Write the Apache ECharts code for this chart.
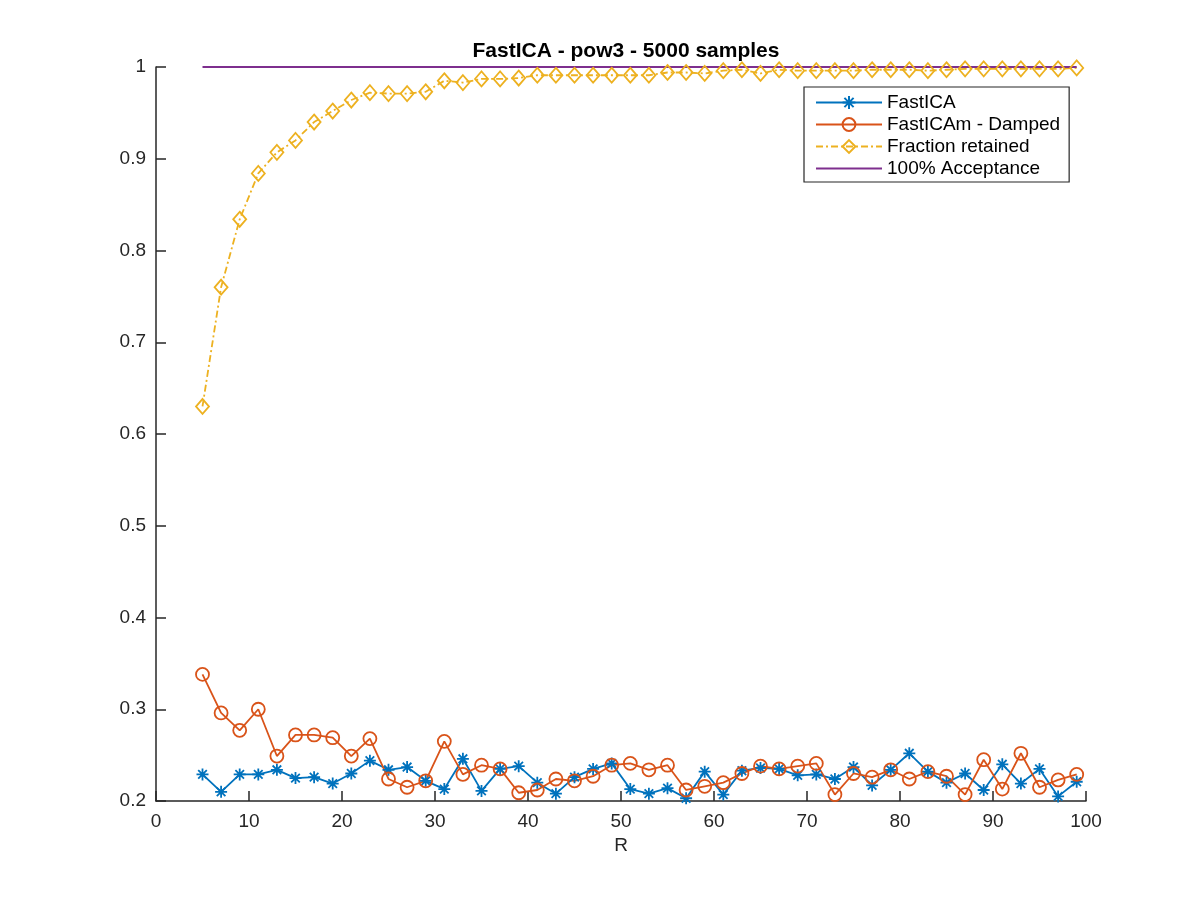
<!DOCTYPE html>
<html>
<head>
<meta charset="utf-8">
<script src="https://cdn.jsdelivr.net/npm/echarts@6/dist/echarts.min.js"></script>
<style>html,body{margin:0;padding:0;background:#fff}#c{width:1200px;height:900px}</style>
</head>
<body>
<div id="c"></div>
<script>
const R = [5,7,9,11,13,15,17,19,21,23,25,27,29,31,33,35,37,39,41,43,45,47,49,51,53,55,57,59,61,63,65,67,69,71,73,75,77,79,81,83,85,87,89,91,93,95,97,99];
const fastICA = [0.229,0.210,0.229,0.229,0.234,0.225,0.226,0.219,0.230,0.244,0.234,0.237,0.222,0.213,0.246,0.211,0.235,0.238,0.220,0.208,0.226,0.235,0.241,0.213,0.208,0.214,0.203,0.232,0.207,0.233,0.236,0.235,0.228,0.229,0.224,0.237,0.217,0.234,0.252,0.232,0.220,0.230,0.212,0.240,0.219,0.235,0.205,0.221];
const fastICAm = [0.338,0.296,0.277,0.300,0.249,0.272,0.272,0.269,0.249,0.268,0.224,0.215,0.222,0.265,0.229,0.239,0.235,0.209,0.212,0.224,0.222,0.227,0.239,0.241,0.234,0.239,0.212,0.216,0.220,0.230,0.238,0.235,0.238,0.241,0.207,0.230,0.226,0.234,0.224,0.232,0.227,0.207,0.245,0.213,0.252,0.215,0.223,0.229];
const fraction = [0.630,0.760,0.834,0.884,0.907,0.920,0.940,0.952,0.964,0.972,0.971,0.971,0.973,0.985,0.983,0.987,0.987,0.988,0.991,0.991,0.991,0.991,0.991,0.991,0.991,0.994,0.994,0.993,0.996,0.997,0.993,0.997,0.996,0.996,0.996,0.996,0.997,0.997,0.997,0.996,0.997,0.998,0.998,0.998,0.998,0.998,0.998,0.999];
const acceptX = [5,99];
const acceptY = [1,1];
const names = ['FastICA','FastICAm - Damped','Fraction retained','100% Acceptance'];
const titleText = 'FastICA - pow3 - 5000 samples';
const xName = 'R';

const zip = (xs, ys) => xs.map((x,i)=>[x, ys[i]]);
const FONT = '"Liberation Sans", Arial, Helvetica, sans-serif';
const AX = '#262626';
const asterisk = 'path://M0,-6L0,6M-6,0L6,0M-4.3,-4.3L4.3,4.3M-4.3,4.3L4.3,-4.3';
const LW = 1.8;

const chart = echarts.init(document.getElementById('c'), null, {renderer:'canvas'});
chart.setOption({
  animation:false,
  backgroundColor:'#fff',
  title:{
    text:titleText, left:621, top:36, textAlign:'center',
    textStyle:{fontFamily:FONT, fontSize:21, fontWeight:'bold', color:'#000'}
  },
  grid:{left:156, right:114, top:67, bottom:99, containLabel:false},
  legend:{
    orient:'vertical', left:804, top:87,
    padding:[6,9,4,11], itemGap:3, itemWidth:66, itemHeight:16,
    borderColor:AX, borderWidth:1.2, backgroundColor:'#fff',
    textStyle:{fontFamily:FONT, fontSize:19, color:'#000'},
    data:[
      names[0], names[1], names[2],
      {name:names[3], itemStyle:{color:'rgba(0,0,0,0)', borderColor:'rgba(0,0,0,0)', borderWidth:0}}
    ]
  },
  xAxis:{
    type:'value', min:0, max:100, interval:10,
    name:xName, nameLocation:'middle', nameGap:31,
    nameTextStyle:{fontFamily:FONT, fontSize:19, color:AX},
    axisLine:{show:true, lineStyle:{color:AX, width:1.5}},
    axisTick:{show:true, inside:true, length:10, lineStyle:{color:AX, width:1.5}},
    axisLabel:{fontFamily:FONT, fontSize:19, color:AX, margin:11},
    splitLine:{show:false}
  },
  yAxis:{
    type:'value', min:0.2, max:1, interval:0.1,
    axisLine:{show:true, lineStyle:{color:AX, width:1.5}},
    axisTick:{show:true, inside:true, length:10, lineStyle:{color:AX, width:1.5}},
    axisLabel:{fontFamily:FONT, fontSize:19, color:AX, margin:10},
    splitLine:{show:false}
  },
  series:[
    {
      name:names[0], type:'line', data:zip(R, fastICA),
      symbol:asterisk, symbolSize:12, showAllSymbol:true,
      lineStyle:{color:'#0072BD', width:LW},
      itemStyle:{color:'#0072BD', borderColor:'#0072BD', borderWidth:LW}
    },
    {
      name:names[1], type:'line', data:zip(R, fastICAm),
      symbol:'circle', symbolSize:13, showAllSymbol:true,
      lineStyle:{color:'#D95319', width:LW},
      itemStyle:{color:'rgba(255,255,255,0)', borderColor:'#D95319', borderWidth:LW}
    },
    {
      name:names[2], type:'line', data:zip(R, fraction),
      symbol:'diamond', symbolSize:[13,15], showAllSymbol:true,
      lineStyle:{color:'#EDB120', width:LW, type:[7,3,2,3]},
      itemStyle:{color:'rgba(255,255,255,0)', borderColor:'#EDB120', borderWidth:LW}
    },
    {
      name:names[3], type:'line', data:zip(acceptX, acceptY),
      symbol:'none',
      lineStyle:{color:'#7E2F8E', width:LW},
      itemStyle:{color:'#7E2F8E'}
    }
  ]
});
</script>
</body>
</html>
